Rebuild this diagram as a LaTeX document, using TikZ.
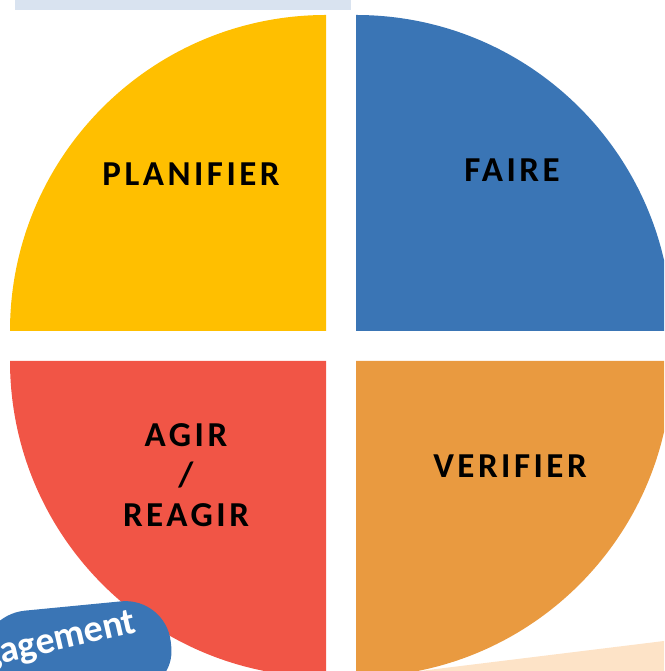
\documentclass[tikz,border=0pt]{standalone}
\usepackage{fontspec}
\setmainfont{Carlito}
\usetikzlibrary{positioning}
\definecolor{pyellow}{HTML}{FFBF00}
\definecolor{pblue}{HTML}{3A75B5}
\definecolor{pred}{HTML}{F15546}
\definecolor{porange}{HTML}{E99A40}
\definecolor{pstrip}{HTML}{D9E3F0}
\definecolor{ppeach}{HTML}{FDE3C7}

\tikzset{
	quadlabel/.style={inner sep=0pt, align=center, text=black,
		font=\fontsize{35}{40}\selectfont\bfseries\addfontfeatures{LetterSpace=10}},
	pilltext/.style={inner sep=0pt, text=white, font=\fontsize{38}{40}\selectfont\bfseries}
}

\begin{document}
\begin{tikzpicture}[x=1pt,y=1pt]
				\useasboundingbox (0,0) rectangle (664,671);
				\clip (0,0) rectangle (664,671);
				
				% top strip
				\fill[pstrip] (15,661) rectangle (351,671);
				
				% peach band, bottom right
				\fill[ppeach] (420,0) -- (664,30) -- (664,0) -- cycle;
				
				%--------------------------------------------------------------------
				\fill[pyellow] (326,340) -- (10,340) arc[start angle=180, end angle=90, radius=316] -- cycle;
				\fill[pblue] (356,340) -- (356,656) arc[start angle=90, end angle=0, radius=316] -- cycle;
				\fill[pred] (326,310) -- (10,310) arc[start angle=180, end angle=270, radius=316] -- cycle;
				\fill[porange] (356,310) -- (672,310) arc[start angle=0, end angle=-90, radius=316] -- cycle;
				
				%--------------------------------------------------------------------
				\node(plan) [quadlabel] at (191,497) {PLANIFIER};
				\node(faire) [quadlabel] at (512,501) {FAIRE};
				\node(agir) [quadlabel] at (186,195.5) {AGIR\\/\\REAGIR};
				\node(verif) [quadlabel] at (510,204.5) {VERIFIER};
				
				%--------------------------------------------------------------------
				\fill[pblue, rounded corners=45pt] (-20,56) -- (166,74) -- (176,-20) -- (-20,-20) -- cycle;
				\node(engage) [pilltext, rotate=13, anchor=base east] at (138,39) {Engagement};
				
			\end{tikzpicture}
\end{document}
